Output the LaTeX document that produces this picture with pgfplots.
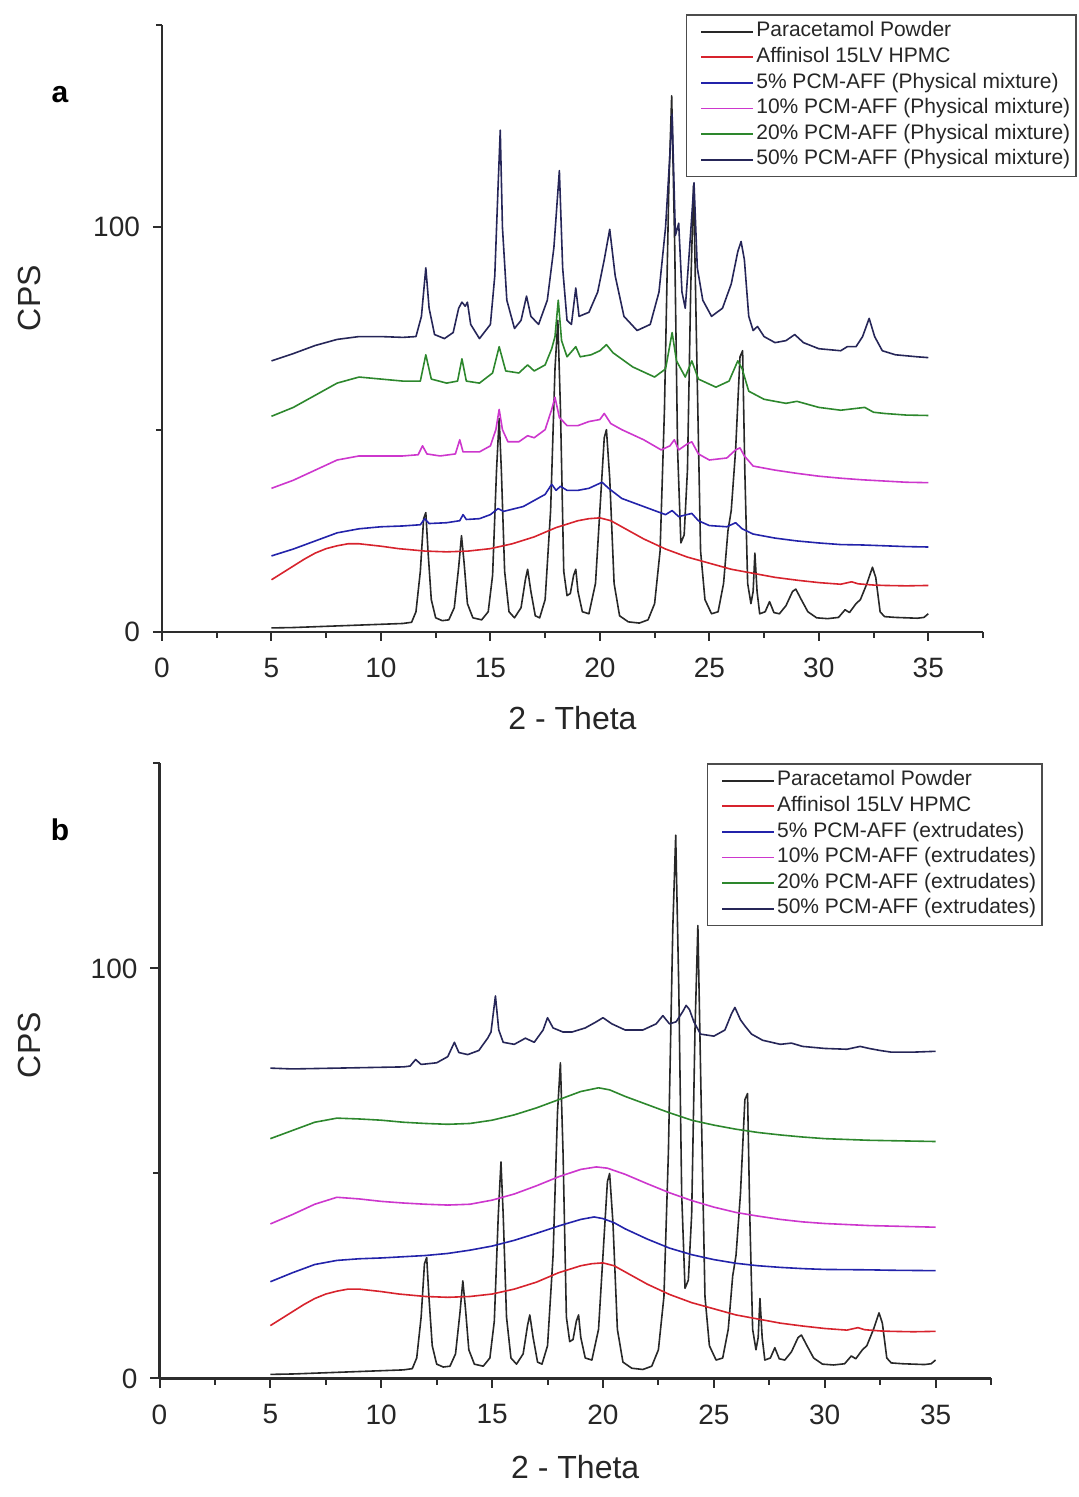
\documentclass[border=0pt]{standalone}
\usepackage{fontspec}
\setmainfont{Liberation Sans}
\usepackage{pgfplots}
\pgfplotsset{compat=1.18}
\usepackage{pgfplotstable}

\definecolor{pblack}{RGB}{40,40,40}
\definecolor{pred}{RGB}{215,35,45}
\definecolor{pblue}{RGB}{35,35,170}
\definecolor{pmag}{RGB}{205,55,205}
\definecolor{pgreen}{RGB}{45,135,45}
\definecolor{pnavy}{RGB}{38,38,88}
\definecolor{axgray}{RGB}{45,45,45}

% Paracetamol powder (same in both panels)
\pgfplotstableread{
x y
5 1.0
6 1.1
7 1.3
8 1.5
9 1.7
10 1.9
11 2.1
11.4 2.4
11.6 5
11.8 15
11.95 28
12.05 29.5
12.15 20
12.3 8
12.5 3.5
12.8 2.8
13.1 3
13.35 6
13.55 16
13.68 23.8
13.8 17
13.95 7
14.2 3.5
14.6 3
14.9 5
15.1 14
15.28 40
15.4 52.8
15.5 40
15.65 15
15.85 5
16.1 3.5
16.4 6
16.6 13
16.7 15.5
16.85 10
17.05 4
17.25 3.5
17.5 8
17.75 30
17.95 65
18.08 77
18.2 55
18.35 15
18.5 9
18.65 9.5
18.8 14
18.9 15.5
19.0 10
19.2 5
19.5 4.5
19.8 12
20.0 30
20.2 48
20.3 50
20.45 38
20.65 12
20.9 4
21.3 2.5
21.8 2.2
22.2 3
22.5 7
22.75 20
22.95 55
23.15 110
23.28 132.5
23.42 95
23.55 45
23.7 22
23.85 24
24.0 40
24.15 85
24.28 110.5
24.42 70
24.6 20
24.8 8
25.1 4.5
25.4 5
25.65 12
25.85 25
26.0 30
26.2 45
26.4 68
26.52 69.5
26.62 40
26.75 12
26.9 7
27.0 10
27.08 19.5
27.18 10
27.3 4.5
27.55 5
27.75 7.5
27.95 4.8
28.2 4.5
28.5 6.5
28.8 10
28.95 10.6
29.2 8
29.5 5
29.9 3.5
30.4 3.3
30.9 3.6
31.2 5.5
31.4 4.8
31.7 7
31.9 8
32.2 12
32.45 16
32.6 13.5
32.8 5
33.0 3.8
33.5 3.6
34 3.5
34.5 3.4
34.8 3.6
35 4.5
}\pcm

% Affinisol 15LV HPMC (same in both panels)
\pgfplotstableread{
x y
5 12.9
5.5 14.6
6 16.3
6.5 18
7 19.5
7.5 20.6
8 21.3
8.5 21.8
9 21.8
9.5 21.5
10 21.2
10.8 20.6
12 20
13 19.8
14 20
15 20.6
16 21.8
17 23.5
18 25.8
19 27.5
19.5 28
20 28.2
20.5 27.5
21 26
22 23
23 20.5
24 18.5
25 17
26 15.5
27 14.5
28 13.5
29 12.8
30 12.2
31 11.8
31.5 12.4
31.8 11.9
32.5 11.6
33 11.5
34 11.4
35 11.5
}\aff

% ---- Panel a: physical mixtures ----
\pgfplotstableread{
x y
5 18.8
6 20.5
7 22.5
8 24.5
9 25.5
10 26
11 26.2
11.8 26.5
12.0 28
12.2 26.8
13 27
13.6 27.5
13.75 29
13.9 27.8
14.5 28
15 29
15.35 30.5
15.6 29.8
16.5 31
17 32.5
17.5 34
17.8 36.5
18.0 35
18.2 36
18.5 35
19 35
19.5 35.5
20.1 37
20.4 35.5
21 33
22 31
23 29
23.3 30
23.6 28.5
24.2 29.3
24.5 27.5
25 26.3
25.8 26
26.2 27
26.5 25.5
27 24.2
28 23.2
29 22.5
30 22
31 21.6
32 21.5
33 21.3
34 21.1
35 21
}\pmfive

\pgfplotstableread{
x y
5 35.5
6 37.5
7 40
8 42.5
9 43.5
10 43.5
11 43.5
11.7 43.8
11.9 46
12.1 44
12.7 43.5
13.4 44
13.6 47.5
13.75 44.5
14.5 44.5
15 46
15.25 50
15.4 55
15.55 50
15.8 47
16.3 47
16.7 48.5
17.0 48
17.5 50
17.8 55
17.95 58
18.15 53
18.5 51
19 51
19.5 52
20.0 52.5
20.2 54
20.5 51.5
21 50
22 47.5
22.8 45
23.2 46
23.4 47.5
23.6 45
24.0 46.5
24.2 47
24.5 44
25 42.5
25.8 43
26.2 45
26.4 45.5
26.6 43.5
27 41
28 40
29 39.2
30 38.5
31 38
32 37.6
33 37.3
34 37
35 36.9
}\pmten

\pgfplotstableread{
x y
5 53.3
6 55.5
7 58.5
8 61.5
9 63
10 62.5
11 62
11.8 62
12.05 68.5
12.3 62.5
13 61.5
13.5 62
13.7 67.5
13.9 62
14.5 61.5
15.1 64
15.4 70.5
15.7 64.5
16.3 64
16.7 66
17.0 64.5
17.5 66
17.8 70
17.95 73
18.1 82
18.25 72
18.5 68
18.9 70.5
19.1 68
19.6 68.5
20.0 69.5
20.3 71
20.6 69
21.5 65.5
22.5 63
23.0 65
23.3 74
23.5 67
23.9 63
24.2 67
24.5 62.5
25.3 60.5
25.9 62
26.3 67
26.5 65
26.8 59.5
27.5 57.5
28.5 56.5
29 57
30 55.5
31 54.8
32.1 55.5
32.5 54.3
33 54
34 53.6
35 53.5
}\pmtwenty

\pgfplotstableread{
x y
5 67
6 68.8
7 70.8
8 72.3
9 73
10 73
11 72.8
11.6 73
11.85 78
12.05 90
12.2 80
12.45 73.5
12.9 72.5
13.3 74
13.55 80
13.7 81.5
13.85 80.5
13.95 81.5
14.1 76
14.5 72.5
15.0 76
15.2 88
15.35 110
15.45 124
15.55 100
15.75 82
16.1 75
16.4 77
16.65 83
16.85 78
17.2 76
17.6 82
17.9 95
18.15 114
18.3 90
18.5 77
18.7 76
18.9 85
19.05 78
19.5 79
19.9 84
20.2 92
20.45 99.5
20.7 88
21.1 78
21.7 74.5
22.3 76
22.7 84
23.0 100
23.2 118
23.3 128
23.45 98
23.6 101
23.75 84
23.9 80
24.1 95
24.3 111
24.45 90
24.7 82
25.1 78
25.6 80
26.0 86
26.3 94
26.45 96.5
26.6 92
26.8 78
27.0 74.5
27.2 75.5
27.5 73
28.0 71.5
28.5 72
28.9 73.5
29.3 71.5
30 70
31 69.5
31.3 70.5
31.7 70.5
32.0 73
32.3 77.5
32.55 73
32.9 69.5
33.5 68.5
34.5 68
35 67.8
}\pmfifty

% ---- Panel b: extrudates ----
\pgfplotstableread{
x y
5 23.6
6 25.8
7 27.8
8 28.8
9 29.2
10 29.4
11 29.7
12 30
13 30.5
14 31.3
15 32.3
16 33.7
17 35.4
18 37.2
19 38.8
19.6 39.4
20 39
20.5 38
21 36.5
22 34
23 31.8
24 30.2
25 29
26 28.1
27 27.5
28 27.1
29 26.8
30 26.6
32 26.5
33 26.4
35 26.3
}\exfive

\pgfplotstableread{
x y
5 37.7
6 40
7 42.5
8 44.2
9 43.8
10 43.2
11 42.8
12 42.5
13 42.3
14 42.5
15 43.5
16 45
17 47
18 49.2
19 51
19.7 51.6
20.2 51.3
21 49.8
22 47.5
23 45.3
24 43.4
25 41.8
26 40.5
27 39.6
28 38.8
29 38.2
30 37.8
32 37.3
35 36.9
}\exten

\pgfplotstableread{
x y
5 58.5
6 60.5
7 62.5
8 63.5
9 63.3
10 63
11 62.5
12 62.2
13 62
14 62.2
15 63
16 64.3
17 66
18 68
19 70
19.8 70.9
20.3 70.4
21 68.8
22 66.8
23 64.8
24 63
25 61.8
26 60.8
27 60
28 59.4
29 58.9
30 58.5
32 58.1
35 57.8
}\extwenty

\pgfplotstableread{
x y
5 75.7
6 75.5
7 75.6
8 75.7
9 75.8
10 75.9
11 76.0
11.3 76.2
11.55 77.8
11.8 76.6
12.5 77
13.0 78.5
13.3 82
13.5 79.5
13.9 79
14.4 80
14.8 83
14.95 84.5
15.15 93.3
15.3 85
15.5 82
16.0 81.5
16.5 83
16.9 82
17.3 85
17.5 88
17.75 85.5
18.2 84.5
18.6 84.5
19.2 85.5
19.7 87
20.0 88
20.4 86.5
21 85
21.8 85
22.4 86.5
22.7 88.5
23.0 86.5
23.3 87
23.6 89.5
23.75 91
23.9 90
24.1 87
24.4 84
25.0 83.5
25.5 85
25.8 89
25.95 90.5
26.2 87.5
26.4 86
26.7 84
27.2 82.5
28 81.5
28.5 81.8
29 81
30 80.5
31 80.3
31.6 81
32 80.5
32.5 80
33 79.6
34 79.6
35 79.8
}\exfifty

\pgfplotsset{
  xrdaxis/.style={
    scale only axis,
    xmin=0, xmax=37.5, ymin=0, ymax=150,
    axis x line*=bottom, axis y line*=left,
    axis line style={axgray, line width=1.1pt, -},
    xtick={0,5,...,35}, minor xtick={2.5,7.5,...,37.5},
    ytick={0,100}, minor ytick={50,150},
    tick align=outside,
    major tick length=4.5pt, minor tick length=3pt,
    every tick/.style={axgray, line width=1pt},
    tick label style={font=\fontsize{14}{16}\selectfont, text=black!85},
    /pgf/number format/assume math mode=true,
    xticklabel shift=5pt, yticklabel shift=3pt,
    label style={font=\fontsize{16}{18}\selectfont, text=black!85},
    xlabel={2 - Theta}, ylabel={CPS},
    legend cell align=left,
    legend image code/.code={\path (0pt,0pt); \draw[#1, line width=0.9pt] (5pt,0pt) -- (31pt,0pt);},
    legend style={draw=black!70, line width=0.8pt,
      font=\fontsize{10.5}{12.8}\selectfont, text=black!85,
      row sep=0pt, inner xsep=2pt, inner ysep=2pt,
      nodes={inner xsep=1pt, inner ysep=1.4pt, text height=7.6pt, text depth=2.4pt}},
    every axis plot/.append style={line width=0.8pt, line join=round},
  }
}

\begin{document}
\begin{tikzpicture}
\useasboundingbox (0,0) rectangle (539pt,748.5pt);

% Panel a
\begin{axis}[xrdaxis,
  at={(81pt,432.5pt)}, anchor=south west,
  width=410.5pt, height=303.5pt,
  xlabel style={at={(axis description cs:0.5,-0.142)}, anchor=center},
  ylabel style={at={(axis description cs:-0.161,0.55)}, anchor=center},
  legend style={at={(axis description cs:1.1145,1.018)}, anchor=north east},
]
\addplot[pblack] table {\pcm};
\addplot[pred] table {\aff};
\addplot[pblue] table {\pmfive};
\addplot[pmag] table {\pmten};
\addplot[pgreen] table {\pmtwenty};
\addplot[pnavy] table {\pmfifty};
\legend{Paracetamol Powder, Affinisol 15LV HPMC,
  5\% PCM-AFF (Physical mixture), 10\% PCM-AFF (Physical mixture),
  20\% PCM-AFF (Physical mixture), 50\% PCM-AFF (Physical mixture)}
\end{axis}

% Panel b
\begin{axis}[xrdaxis,
  at={(79.75pt,59.25pt)}, anchor=south west,
  width=415.75pt, height=307.5pt,
  xlabel style={at={(axis description cs:0.5,-0.144)}, anchor=center},
  ylabel style={at={(axis description cs:-0.156,0.542)}, anchor=center},
  legend style={at={(axis description cs:1.0625,1.0008)}, anchor=north east},
]
\addplot[pblack] table {\pcm};
\addplot[pred] table {\aff};
\addplot[pblue] table {\exfive};
\addplot[pmag] table {\exten};
\addplot[pgreen] table {\extwenty};
\addplot[pnavy] table {\exfifty};
\legend{Paracetamol Powder, Affinisol 15LV HPMC,
  5\% PCM-AFF (extrudates), 10\% PCM-AFF (extrudates),
  20\% PCM-AFF (extrudates), 50\% PCM-AFF (extrudates)}
\end{axis}

\node[font=\fontsize{15}{17}\selectfont\bfseries, anchor=center] at (30pt,701pt) {a};
\node[font=\fontsize{15}{17}\selectfont\bfseries, anchor=center] at (30pt,333.5pt) {b};
\end{tikzpicture}
\end{document}
